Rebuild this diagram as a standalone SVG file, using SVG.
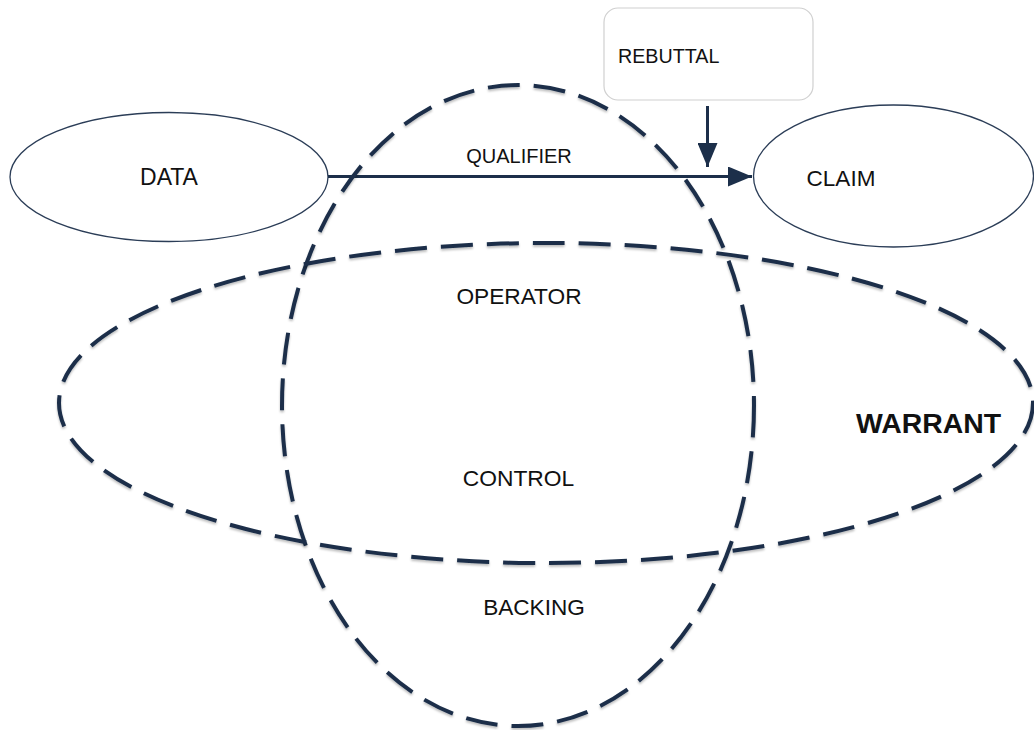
<svg xmlns="http://www.w3.org/2000/svg" width="1034" height="730" viewBox="0 0 1034 730">
  <defs>
    <style>
      .lbl { font-family: "Liberation Sans", Arial, sans-serif; fill: #111; }
      .node { fill: #fff; stroke: #2b3d57; stroke-width: 1.3; }
      .dash { fill: none; stroke: #1c2f4a; stroke-width: 4; stroke-dasharray: 32 14; }
      .conn { stroke: #1c2f4a; stroke-width: 3; fill: none; }
    </style>
    <marker id="ah" viewBox="0 0 24 20" refX="24" refY="10" markerWidth="24" markerHeight="20" markerUnits="userSpaceOnUse" orient="auto">
      <path d="M0,0 L24,10 L0,20 Z" fill="#1c2f4a"/>
    </marker>
    <filter id="sh" x="-5%" y="-5%" width="110%" height="110%">
      <feDropShadow dx="0" dy="2" stdDeviation="1.2" flood-color="#000" flood-opacity="0.25"/>
    </filter>
  </defs>
  <rect width="1034" height="730" fill="#fff"/>

  <g id="data">
    <ellipse class="node" cx="169" cy="177" rx="159" ry="64.5"/>
    <text class="lbl" x="169" y="185" font-size="23" text-anchor="middle">DATA</text>
  </g>

  <g id="claim">
    <ellipse class="node" cx="893.5" cy="176" rx="140" ry="71"/>
    <text class="lbl" x="841" y="185.5" font-size="22.5" text-anchor="middle">CLAIM</text>
  </g>

  <g id="rebuttal">
    <rect x="604" y="8" width="209" height="92" rx="14" ry="14" fill="#fff" stroke="#d0d0d0" stroke-width="1.2"/>
    <text class="lbl" x="618" y="62.5" font-size="19.7">REBUTTAL</text>
  </g>

  <g id="connectors">
    <line class="conn" x1="328" y1="176.5" x2="752" y2="176.5" marker-end="url(#ah)"/>
    <line class="conn" x1="707.5" y1="106" x2="707.5" y2="167" marker-end="url(#ah)"/>
  </g>

  <g id="qualifier">
    <text class="lbl" x="519" y="162.5" font-size="20" text-anchor="middle">QUALIFIER</text>
  </g>

  <g id="backing">
    <ellipse class="dash" filter="url(#sh)" cx="518" cy="405.5" rx="236" ry="320.5"/>
    <text class="lbl" x="534" y="614.5" font-size="22.6" text-anchor="middle">BACKING</text>
  </g>

  <g id="warrant">
    <ellipse class="dash" filter="url(#sh)" cx="546" cy="403" rx="487" ry="160"/>
    <text class="lbl" x="928.5" y="432.5" font-size="28.4" font-weight="bold" text-anchor="middle">WARRANT</text>
  </g>

  <g id="operator">
    <text class="lbl" x="519" y="304" font-size="22.7" text-anchor="middle">OPERATOR</text>
  </g>

  <g id="control">
    <text class="lbl" x="518.5" y="486" font-size="22.8" text-anchor="middle">CONTROL</text>
  </g>
</svg>
